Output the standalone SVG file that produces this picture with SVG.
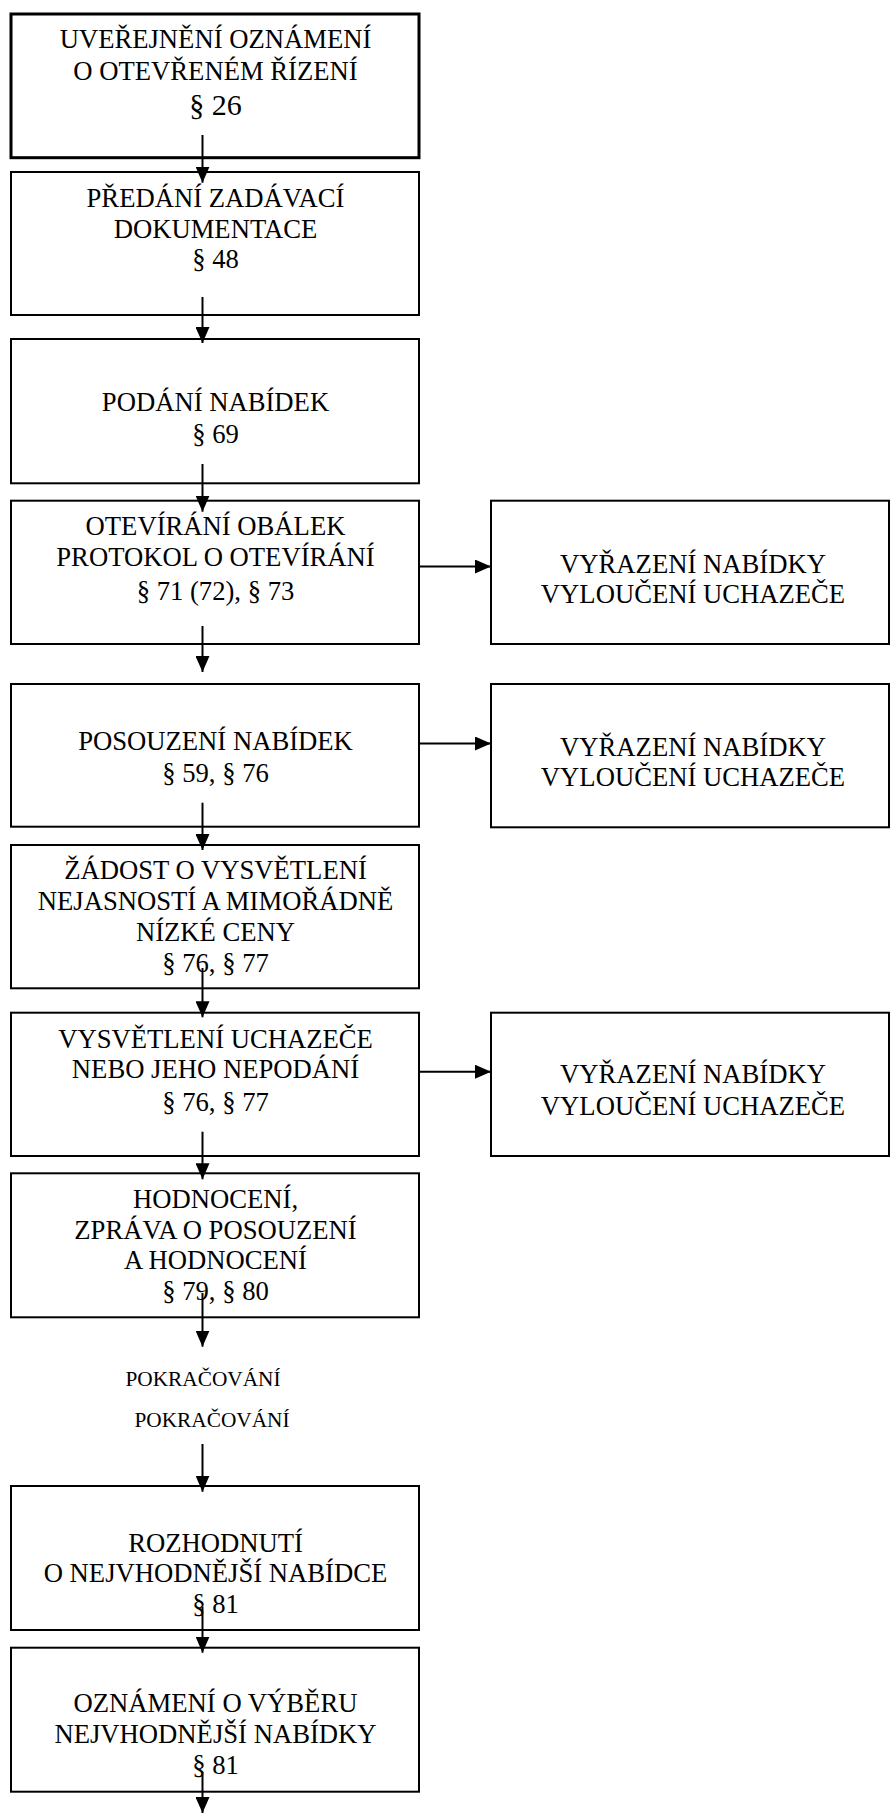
<svg xmlns="http://www.w3.org/2000/svg" width="890" height="1814" viewBox="0 0 890 1814">
<style>
.box{fill:#fff;stroke:#000;stroke-width:2}
.thick{stroke-width:3}
.t{font-family:"Liberation Serif","Times New Roman",serif;font-size:26.67px;fill:#000;text-anchor:middle}
.big{font-size:30px}
.small{font-size:21.33px}
.c{stroke:#000;stroke-width:2;fill:none}
</style>
<defs>
<marker id="ah" viewBox="0 0 16 14" refX="16" refY="7" markerWidth="16" markerHeight="14" markerUnits="userSpaceOnUse" orient="auto">
<path d="M0,0 L16,7 L0,14 z" fill="#000"/>
</marker>
</defs>
<rect x="0" y="0" width="890" height="1814" fill="#fff"/>
<g id="n1"><rect class="box thick" x="11" y="14" width="408" height="143.7"/>
<text class="t" x="215.5" y="48.3">UVEŘEJNĚNÍ OZNÁMENÍ</text>
<text class="t" x="215.5" y="80">O OTEVŘENÉM ŘÍZENÍ</text>
<text class="t big" x="215.5" y="115">§ 26</text></g>
<g id="n2"><rect class="box" x="11" y="172" width="408" height="143"/>
<text class="t" x="215.5" y="206.7">PŘEDÁNÍ ZADÁVACÍ</text>
<text class="t" x="215.5" y="237.7">DOKUMENTACE</text>
<text class="t" x="215.5" y="268.3">§ 48</text></g>
<g id="n3"><rect class="box" x="11" y="339" width="408" height="144.3"/>
<text class="t" x="215.5" y="411">PODÁNÍ NABÍDEK</text>
<text class="t" x="215.5" y="442.7">§ 69</text></g>
<g id="n4"><rect class="box" x="11" y="500.7" width="408" height="143.3"/>
<text class="t" x="215.5" y="535">OTEVÍRÁNÍ OBÁLEK</text>
<text class="t" x="215.5" y="566">PROTOKOL O OTEVÍRÁNÍ</text>
<text class="t" x="215.5" y="599.5">§ 71 (72), § 73</text></g>
<g id="n5"><rect class="box" x="11" y="684" width="408" height="142.7"/>
<text class="t" x="215.5" y="750">POSOUZENÍ NABÍDEK</text>
<text class="t" x="215.5" y="781.7">§ 59, § 76</text></g>
<g id="n6"><rect class="box" x="11" y="845" width="408" height="143.3"/>
<text class="t" x="215.5" y="879.3">ŽÁDOST O VYSVĚTLENÍ</text>
<text class="t" x="215.5" y="910">NEJASNOSTÍ A MIMOŘÁDNĚ</text>
<text class="t" x="215.5" y="940.7">NÍZKÉ CENY</text>
<text class="t" x="215.5" y="971.7">§ 76, § 77</text></g>
<g id="n7"><rect class="box" x="11" y="1012.7" width="408" height="143.3"/>
<text class="t" x="215.5" y="1048.3">VYSVĚTLENÍ UCHAZEČE</text>
<text class="t" x="215.5" y="1078.3">NEBO JEHO NEPODÁNÍ</text>
<text class="t" x="215.5" y="1110.5">§ 76, § 77</text></g>
<g id="n8"><rect class="box" x="11" y="1173.3" width="408" height="144"/>
<text class="t" x="215.5" y="1208.3">HODNOCENÍ,</text>
<text class="t" x="215.5" y="1239.3">ZPRÁVA O POSOUZENÍ</text>
<text class="t" x="215.5" y="1269.3">A HODNOCENÍ</text>
<text class="t" x="215.5" y="1300">§ 79, § 80</text></g>
<g id="n9"><text class="t small" x="203" y="1385.7">POKRAČOVÁNÍ</text></g>
<g id="n10"><text class="t small" x="212" y="1427.3">POKRAČOVÁNÍ</text></g>
<g id="n11"><rect class="box" x="11" y="1486" width="408" height="144"/>
<text class="t" x="215.5" y="1551.7">ROZHODNUTÍ</text>
<text class="t" x="215.5" y="1581.7">O NEJVHODNĚJŠÍ NABÍDCE</text>
<text class="t" x="215.5" y="1612.7">§ 81</text></g>
<g id="n12"><rect class="box" x="11" y="1647.7" width="408" height="144"/>
<text class="t" x="215.5" y="1712.3">OZNÁMENÍ O VÝBĚRU</text>
<text class="t" x="215.5" y="1743.3">NEJVHODNĚJŠÍ NABÍDKY</text>
<text class="t" x="215.5" y="1774">§ 81</text></g>
<g id="r1"><rect class="box" x="491" y="500.7" width="398" height="143.3"/>
<text class="t" x="693" y="572.7">VYŘAZENÍ NABÍDKY</text>
<text class="t" x="693" y="603.3">VYLOUČENÍ UCHAZEČE</text></g>
<g id="r2"><rect class="box" x="491" y="684" width="398" height="143.3"/>
<text class="t" x="693" y="756">VYŘAZENÍ NABÍDKY</text>
<text class="t" x="693" y="786">VYLOUČENÍ UCHAZEČE</text></g>
<g id="r3"><rect class="box" x="491" y="1012.7" width="398" height="143.3"/>
<text class="t" x="693" y="1083.3">VYŘAZENÍ NABÍDKY</text>
<text class="t" x="693" y="1115">VYLOUČENÍ UCHAZEČE</text></g>
<g id="connectors">
<line class="c" x1="202.5" y1="135" x2="202.5" y2="182.7" marker-end="url(#ah)"/>
<line class="c" x1="202.5" y1="297" x2="202.5" y2="343" marker-end="url(#ah)"/>
<line class="c" x1="202.5" y1="464" x2="202.5" y2="511.7" marker-end="url(#ah)"/>
<line class="c" x1="202.5" y1="626" x2="202.5" y2="672" marker-end="url(#ah)"/>
<line class="c" x1="202.5" y1="802.7" x2="202.5" y2="850" marker-end="url(#ah)"/>
<line class="c" x1="202.5" y1="968" x2="202.5" y2="1017.3" marker-end="url(#ah)"/>
<line class="c" x1="202.5" y1="1131.7" x2="202.5" y2="1179.3" marker-end="url(#ah)"/>
<line class="c" x1="202.5" y1="1293" x2="202.5" y2="1346.7" marker-end="url(#ah)"/>
<line class="c" x1="202.5" y1="1444" x2="202.5" y2="1491.7" marker-end="url(#ah)"/>
<line class="c" x1="202.5" y1="1606.7" x2="202.5" y2="1652.7" marker-end="url(#ah)"/>
<line class="c" x1="202.5" y1="1771.7" x2="202.5" y2="1813" marker-end="url(#ah)"/>
<line class="c" x1="420" y1="566.5" x2="491" y2="566.5" marker-end="url(#ah)"/>
<line class="c" x1="420" y1="743.5" x2="491" y2="743.5" marker-end="url(#ah)"/>
<line class="c" x1="420" y1="1071.7" x2="491" y2="1071.7" marker-end="url(#ah)"/>
</g>
</svg>
